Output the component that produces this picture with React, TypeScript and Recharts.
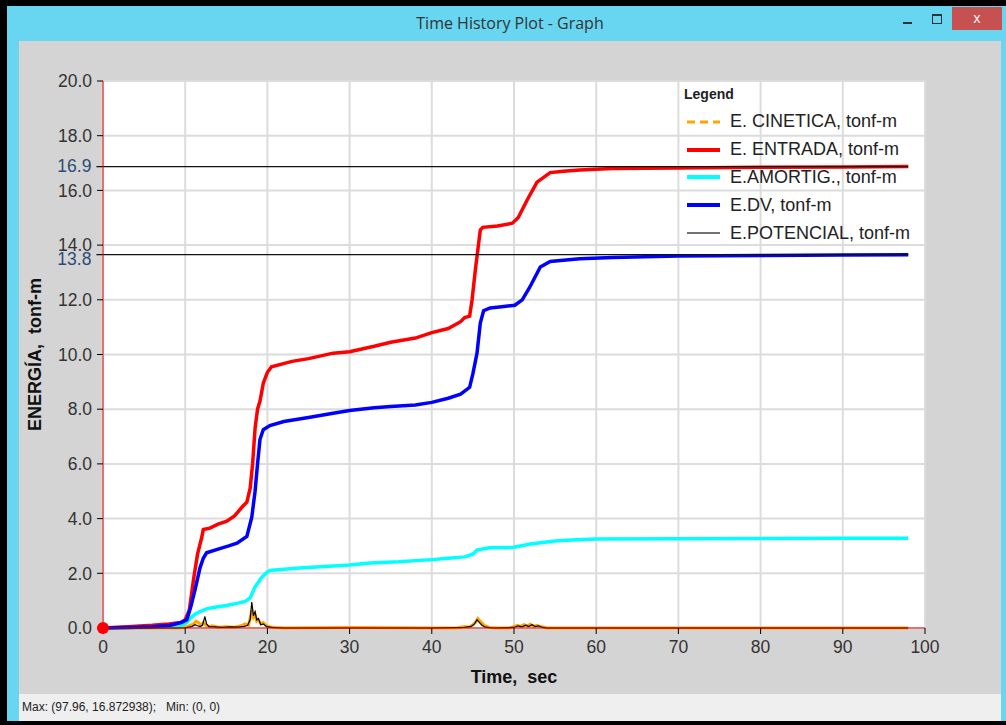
import {
    LineChart,
    Line,
    XAxis,
    YAxis,
    CartesianGrid,
    ReferenceLine,
    ReferenceDot,
    Label
} from 'recharts'

// time (sec), energy (tonf-m) pairs
const cinetica: [number, number][] = [
    [0, 0], [9, 0], [10, 0.02], [10.6, 0.1], [11, 0.15], [11.3, 0.25], [11.6, 0.2], [11.9, 0.1],
    [12.2, 0.2], [12.5, 0.1], [12.9, 0.05], [13.3, 0.08], [14, 0.03], [15, 0.05], [16, 0.03],
    [16.8, 0.08], [17.3, 0.15], [17.7, 0.1], [17.9, 0.35], [18.1, 0.65], [18.3, 0.4], [18.5, 0.5],
    [18.7, 0.25], [18.9, 0.3], [19.2, 0.15], [19.5, 0.2], [19.8, 0.1], [20.2, 0.05], [21, 0.02],
    [22, 0], [30, 0.02], [40, 0], [43, 0], [44, 0.05], [44.5, 0.03], [45, 0.12], [45.3, 0.2],
    [45.6, 0.35], [45.9, 0.25], [46.2, 0.15], [46.5, 0.08], [47, 0.02], [48, 0], [49.5, 0],
    [50, 0.05], [50.4, 0.1], [50.8, 0.06], [51.2, 0.12], [51.6, 0.08], [52, 0.14], [52.4, 0.06],
    [52.8, 0.1], [53.2, 0.05], [53.6, 0.04], [54, 0], [60, 0], [80, 0], [97.96, 0]
]

const entrada: [number, number][] = [
    [0, 0], [3, 0.05], [6, 0.1], [8, 0.15], [9.5, 0.2], [10, 0.3], [10.5, 0.65], [11, 1.75],
    [11.5, 2.7], [12, 3.3], [12.2, 3.6], [13, 3.65], [14, 3.8], [15, 3.9], [16, 4.1], [17, 4.45],
    [17.5, 4.6], [17.9, 5.1], [18.2, 6.0], [18.5, 7.3], [18.8, 8.0], [19.1, 8.3], [19.5, 8.95],
    [20, 9.35], [20.5, 9.55], [23, 9.75], [25, 9.85], [28, 10.05], [30, 10.1], [33, 10.3],
    [35, 10.45], [38, 10.6], [40, 10.8], [42, 10.95], [43.5, 11.2], [44, 11.35], [44.6, 11.4],
    [44.9, 12.0], [45.3, 13.1], [45.9, 14.55], [46.2, 14.65], [48, 14.7], [49.8, 14.8],
    [50.5, 15.0], [51.6, 15.65], [52.8, 16.3], [54.4, 16.65], [56, 16.7], [58, 16.75],
    [62, 16.8], [70, 16.82], [80, 16.85], [90, 16.86], [97.96, 16.87]
]

const amortig: [number, number][] = [
    [0, 0], [5, 0.02], [9.4, 0.05], [10.2, 0.2], [10.6, 0.35], [11.2, 0.5], [11.8, 0.6],
    [12.6, 0.7], [13.4, 0.75], [15, 0.82], [16.3, 0.9], [17.3, 0.97], [17.9, 1.1], [18.5, 1.5],
    [19.3, 1.85], [20, 2.05], [20.3, 2.1], [22, 2.15], [24.3, 2.2], [27, 2.25], [30, 2.3],
    [32.5, 2.38], [36, 2.42], [40, 2.5], [42, 2.55], [44, 2.6], [45, 2.7], [45.5, 2.85],
    [47, 2.93], [50, 2.95], [52, 3.07], [55, 3.18], [57, 3.22], [60, 3.25], [70, 3.26],
    [80, 3.27], [90, 3.28], [97.96, 3.28]
]

const dv: [number, number][] = [
    [0, 0], [3, 0.02], [6, 0.05], [8.2, 0.1], [9.5, 0.2], [10.2, 0.3], [10.7, 0.8], [11.2, 1.4],
    [11.8, 2.2], [12.2, 2.55], [12.6, 2.75], [14.2, 2.9], [15.3, 3.0], [16.3, 3.1], [17.5, 3.35],
    [18.1, 4.05], [18.5, 5.0], [18.8, 6.0], [19.1, 6.9], [19.5, 7.25], [20.3, 7.4], [22, 7.55],
    [25, 7.7], [28, 7.85], [30, 7.95], [33, 8.05], [35, 8.1], [38, 8.15], [40, 8.25], [42, 8.4],
    [43.5, 8.55], [44.6, 8.8], [45, 9.3], [45.5, 10.05], [45.9, 11.15], [46.3, 11.6],
    [47.1, 11.7], [48.5, 11.75], [50.1, 11.8], [51, 12.0], [51.9, 12.45], [53.2, 13.2],
    [54.4, 13.4], [56, 13.45], [58, 13.5], [62, 13.55], [70, 13.6], [80, 13.62], [90, 13.64],
    [97.96, 13.65]
]

const potencial: [number, number][] = [
    [0, 0], [9, 0], [10, 0.01], [10.8, 0.05], [11.2, 0.12], [11.5, 0.08], [11.8, 0.05],
    [12.1, 0.1], [12.4, 0.42], [12.6, 0.15], [12.9, 0.05], [13.5, 0.04], [14.5, 0.02],
    [15.5, 0.04], [16.5, 0.03], [17.2, 0.06], [17.6, 0.1], [17.9, 0.3], [18.1, 0.95],
    [18.3, 0.45], [18.5, 0.6], [18.7, 0.3], [18.9, 0.35], [19.2, 0.12], [19.5, 0.15],
    [19.9, 0.05], [20.5, 0.02], [22, 0], [40, 0], [44, 0.02], [44.8, 0.06], [45.2, 0.15],
    [45.5, 0.3], [45.8, 0.2], [46.1, 0.1], [46.5, 0.03], [47.5, 0], [50, 0.02], [50.5, 0.08],
    [51, 0.04], [51.4, 0.1], [51.8, 0.05], [52.2, 0.12], [52.6, 0.05], [53, 0.08],
    [53.5, 0.02], [54, 0], [97.96, 0]
]

const xTicks = [0, 10, 20, 30, 40, 50, 60, 70, 80, 90, 100]
const yTicks = [0, 2, 4, 6, 8, 10, 12, 14, 16, 18, 20]

const maxLines = [
    { y: 16.87, label: '16.9' },
    { y: 13.65, label: '13.8' }
]
// vertical nudge of the max labels, as in the original
const maxLabelShift = [-1, 4]

const seriesNames = [
    'E. CINETICA, tonf-m',
    'E. ENTRADA, tonf-m',
    'E.AMORTIG., tonf-m',
    'E.DV, tonf-m',
    'E.POTENCIAL, tonf-m'
]

const toPoints = (arr: [number, number][]) => arr.map(([t, v]) => ({ t, v }))

const legendStyles = [
    { color: '#ffa500', width: 3, dash: '8 5' },
    { color: '#ff0000', width: 4, dash: '' },
    { color: '#00ffff', width: 4, dash: '' },
    { color: '#0000ff', width: 4, dash: '' },
    { color: '#444444', width: 1.5, dash: '' }
]

const font = '"Liberation Sans", Arial, sans-serif'

function ChartLegend() {
    return (
        <div style={{ position: 'absolute', left: 684, top: 86, fontFamily: font, color: '#222' }}>
            <div style={{ fontWeight: 'bold', fontSize: 14, height: 22 }}>Legend</div>
            {seriesNames.map((name, i) => (
                <div key={name} style={{ display: 'flex', alignItems: 'center', height: 27.8 }}>
                    <svg width={40} height={10} style={{ marginRight: 6 }}>
                        <line
                            x1={3}
                            x2={36}
                            y1={5}
                            y2={5}
                            stroke={legendStyles[i].color}
                            strokeWidth={legendStyles[i].width}
                            strokeDasharray={legendStyles[i].dash}
                        />
                    </svg>
                    <span style={{ fontSize: 18, whiteSpace: 'nowrap' }}>{name}</span>
                </div>
            ))}
        </div>
    )
}

export default function App() {
    return (
        <div
            style={{
                position: 'fixed',
                left: 0,
                top: 0,
                width: 1006,
                height: 725,
                background: '#000',
                overflow: 'hidden'
            }}
        >
            {/* window frame */}
            <div style={{ position: 'absolute', left: 7, top: 6, right: 0, bottom: 4, background: '#68d5f1' }} />
            <div
                style={{
                    position: 'absolute',
                    left: 0,
                    width: 1020,
                    top: 12,
                    textAlign: 'center',
                    fontFamily: '"Open Sans", "Noto Sans", sans-serif',
                    fontSize: 16,
                    color: '#333'
                }}
            >
                Time History Plot - Graph
            </div>
            <div style={{ position: 'absolute', left: 903, top: 22, width: 9, height: 2, background: '#333' }} />
            <div
                style={{
                    position: 'absolute',
                    left: 932,
                    top: 14,
                    width: 8,
                    height: 7,
                    border: '1px solid #333',
                    borderTopWidth: 2
                }}
            />
            <div
                style={{
                    position: 'absolute',
                    left: 952,
                    top: 7,
                    width: 50,
                    height: 23,
                    background: '#c75050',
                    color: '#fff',
                    fontFamily: '"Open Sans", sans-serif',
                    fontSize: 14,
                    textAlign: 'center',
                    lineHeight: '22px'
                }}
            >
                x
            </div>
            <div style={{ position: 'absolute', left: 19, top: 41, width: 982, height: 653, background: '#d4d4d4' }} />
            <div
                style={{
                    position: 'absolute',
                    left: 19,
                    top: 694,
                    width: 982,
                    height: 27,
                    background: '#efefef',
                    fontFamily: font,
                    fontSize: 12,
                    color: '#222',
                    lineHeight: '27px',
                    paddingLeft: 3,
                    boxSizing: 'border-box',
                    whiteSpace: 'pre'
                }}
            >
                Max: (97.96, 16.872938);   Min: (0, 0)
            </div>

            <div style={{ position: 'absolute', left: 0, top: 0 }}>
                <LineChart
                    width={1006}
                    height={725}
                    margin={{ top: 81, right: 81, bottom: 67, left: 43 }}
                    style={{ fontFamily: font }}
                >
                    <CartesianGrid stroke="#dcdcdc" strokeWidth={2} fill="#ffffff" fillOpacity={1} />
                    <XAxis
                        type="number"
                        dataKey="t"
                        domain={[0, 100]}
                        ticks={xTicks}
                        height={30}
                        axisLine={{ stroke: '#ff0000' }}
                        tickLine={{ stroke: '#000' }}
                        tickSize={6}
                        tickMargin={7}
                        tick={{ fill: '#333', fontSize: 17.5 }}
                        allowDataOverflow
                    >
                        <Label
                            value={'Time,\u00a0\u00a0sec'}
                            position="insideBottom"
                            offset={-25}
                            style={{ fontWeight: 'bold', fontSize: 18, fill: '#111' }}
                        />
                    </XAxis>
                    <YAxis
                        type="number"
                        domain={[0, 20]}
                        ticks={yTicks}
                        width={60}
                        axisLine={{ stroke: '#ff0000' }}
                        tickLine={{ stroke: '#000' }}
                        tickSize={6}
                        tickMargin={5}
                        tickFormatter={(v: number) => v.toFixed(1)}
                        tick={{ fill: '#333', fontSize: 17.5 }}
                    >
                        <Label
                            value={'ENERGÍA,\u00a0\u00a0tonf-m'}
                            angle={-90}
                            position="insideLeft"
                            offset={-8}
                            style={{ fontWeight: 'bold', fontSize: 18, fill: '#111', textAnchor: 'middle' }}
                        />
                    </YAxis>

                    <Line data={toPoints(cinetica)} dataKey="v" stroke="#ffa500" strokeWidth={3} dot={false} isAnimationActive={false} />
                    <Line data={toPoints(entrada)} dataKey="v" stroke="#ff0000" strokeWidth={3.5} dot={false} isAnimationActive={false} />
                    <Line data={toPoints(amortig)} dataKey="v" stroke="#00ffff" strokeWidth={3.5} dot={false} isAnimationActive={false} />
                    <Line data={toPoints(dv)} dataKey="v" stroke="#0000ff" strokeWidth={3.5} dot={false} isAnimationActive={false} />
                    <Line data={toPoints(potencial)} dataKey="v" stroke="#000000" strokeWidth={1.2} dot={false} isAnimationActive={false} />

                    {maxLines.map((m, i) => (
                        <ReferenceLine
                            key={m.label}
                            segment={[{ x: -0.8, y: m.y }, { x: 97.96, y: m.y }]}
                            stroke="#111"
                            strokeWidth={1.2}
                            ifOverflow="visible"
                            label={{
                                value: m.label,
                                position: 'left',
                                offset: 5,
                                dy: maxLabelShift[i],
                                fill: '#2d4b78',
                                fontSize: 17.5
                            }}
                        />
                    ))}
                    <ReferenceDot x={0} y={0} r={6} fill="#ff0000" stroke="none" ifOverflow="visible" />
                </LineChart>
            </div>
            <ChartLegend />
        </div>
    )
}
